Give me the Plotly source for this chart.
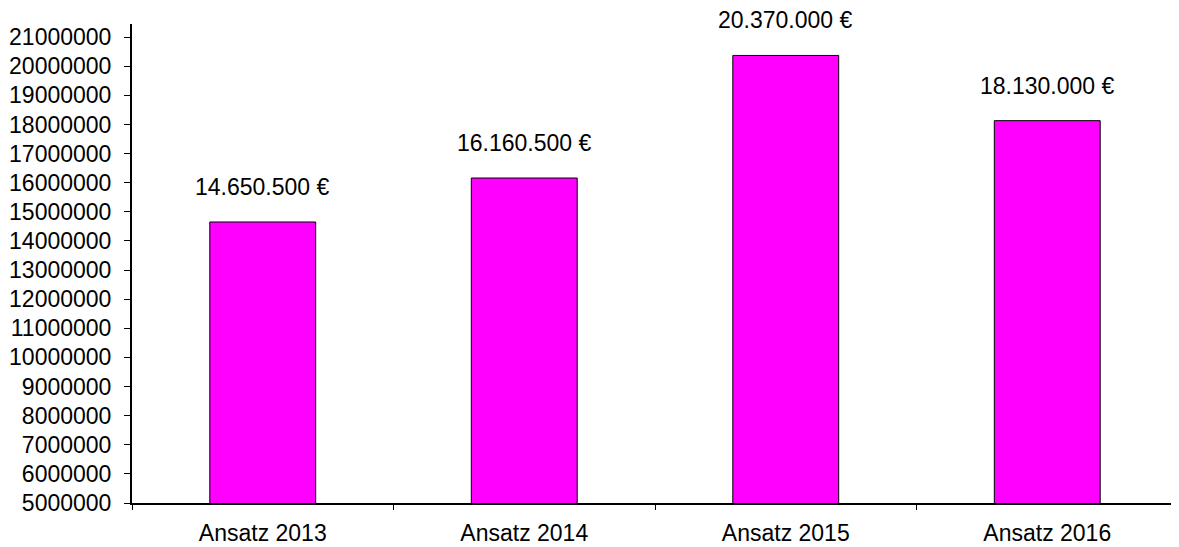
import plotly.graph_objects as go

# Daten
kategorien = ['Ansatz 2013', 'Ansatz 2014', 'Ansatz 2015', 'Ansatz 2016']
werte = [14650500, 16160500, 20370000, 18130000]
beschriftung = ['14.650.500 €', '16.160.500 €', '20.370.000 €', '18.130.000 €']
y_ticks = list(range(5000000, 21000001, 1000000))

fig = go.Figure()
fig.add_trace(go.Bar(
    x=kategorien, y=werte,
    marker=dict(color='#FF00FF', line=dict(color='black', width=1)),
    showlegend=False,
))

# Wertebeschriftung über den Balken
for k, v, t in zip(kategorien, werte, beschriftung):
    fig.add_annotation(x=k, y=v, text=t, showarrow=False,
                       yanchor='bottom', yshift=20,
                       font=dict(size=23, color='black'))

# Seite hat 8px Rand (body margin) -> Figur etwas kleiner
fig.update_layout(
    width=1171, height=539,
    margin=dict(l=122, r=1, t=16, b=44),
    plot_bgcolor='white', paper_bgcolor='white',
    font=dict(family='Liberation Sans, Arial', size=23, color='black'),
    bargap=0.595,
)
fig.update_yaxes(
    range=[5000000, 21450000], tickvals=y_ticks,
    tickformat='d', showgrid=False, zeroline=False,
    showline=True, linecolor='black', linewidth=2,
    ticks='outside', ticklen=6, tickcolor='black',
    ticklabelstandoff=8,
)
fig.update_xaxes(
    showgrid=False, showline=True, linecolor='black', linewidth=2,
    ticks='outside', ticklen=5, tickcolor='black', tickson='boundaries',
    ticklabelstandoff=8,
)

fig.write_html('out.html')
